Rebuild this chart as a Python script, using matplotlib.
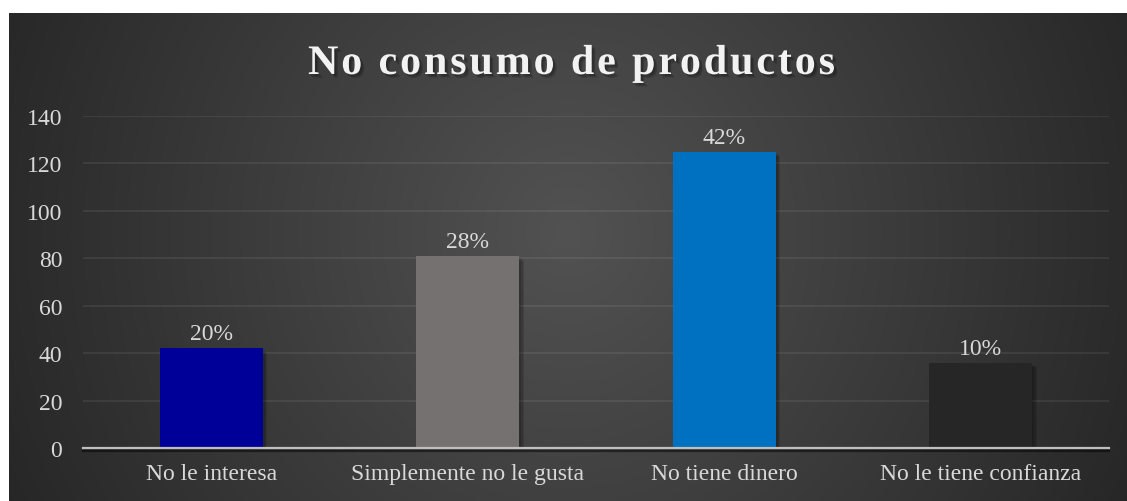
import numpy as np
import matplotlib
matplotlib.use("Agg")
import matplotlib.pyplot as plt
import matplotlib.patheffects as pe
from matplotlib.textpath import TextPath
from matplotlib.patches import PathPatch
from matplotlib.font_manager import FontProperties, findfont, get_font
from matplotlib.transforms import IdentityTransform, Affine2D

# ---- data ----
categories = ["No le interesa", "Simplemente no le gusta", "No tiene dinero", "No le tiene confianza"]
counts = [42, 81, 125, 36]
pct_labels = ["20%", "28%", "42%", "10%"]
bar_colors = ["#000099", "#767171", "#0070C0", "#262626"]
yticks = [0, 20, 40, 60, 80, 100, 120, 140]
title = "No consumo de productos"

W, H, DPI = 1127, 502, 100
SERIF = "Liberation Serif"
TXT = "#d9d9d9"

fig = plt.figure(figsize=(W / DPI, H / DPI), dpi=DPI, facecolor="white")

# ---- dark radial-gradient chart area ----
bx, by, bw, bh = 9, 0, 1118, 488
bg = fig.add_axes([bx / W, by / H, bw / W, bh / H])
bg.set_axis_off()
yy, xx = np.mgrid[0:bh, 0:bw]
cxp, cyp = 0.5 * bw, 0.45 * bh
r = np.sqrt(((xx - cxp) / (0.56 * bw)) ** 2 + ((yy - cyp) / (1.35 * bh)) ** 2)
r = np.clip(r, 0, 1)
c_in = np.array([0x52, 0x52, 0x52]) / 255
c_out = np.array([0x26, 0x26, 0x26]) / 255
img = c_in[None, None, :] + (c_out - c_in)[None, None, :] * r[..., None]
bg.imshow(img, aspect="auto", extent=[0, 1, 0, 1], interpolation="bilinear")
bg.set_xlim(0, 1)
bg.set_ylim(0, 1)

# ---- plot area ----
ax = fig.add_axes([83 / W, 53 / H, 1026 / W, 332 / H])
ax.set_facecolor("none")
x = np.arange(len(categories))
soft_shadow = [pe.SimplePatchShadow(offset=(d, -d), alpha=0.12, shadow_rgbFace="black")
               for d in (3.5, 2.5, 1.5)] + [pe.Normal()]
ax.bar(x, counts, width=0.40, color=bar_colors, zorder=3, path_effects=soft_shadow)
ax.set_xlim(-0.5, len(categories) - 0.5)
ax.set_ylim(0, 140)
ax.set_yticks(yticks)
ax.set_xticks(x)
ax.set_xticklabels(categories)
ax.set_axisbelow(True)
ax.yaxis.grid(True, color="white", alpha=0.08, linewidth=1.3, zorder=0)
for s in ["top", "right", "left"]:
    ax.spines[s].set_visible(False)
ax.spines["bottom"].set_color("#bfbfbf")
ax.spines["bottom"].set_linewidth(1.6)
ax.spines["bottom"].set_zorder(4)
ax.spines["bottom"].set_path_effects([
    pe.SimpleLineShadow(offset=(0, -1.8), alpha=0.5, shadow_color="black"), pe.Normal()])
ax.tick_params(axis="both", length=0, colors=TXT, labelsize=17)
ax.tick_params(axis="y", pad=15)
ax.tick_params(axis="x", pad=11)
for lab in ax.get_xticklabels() + ax.get_yticklabels():
    lab.set_fontfamily(SERIF)

for xi, v, lab in zip(x, counts, pct_labels):
    ax.annotate(lab, (xi, v), xytext=(0, 6.5), textcoords="offset points",
                ha="center", va="baseline", fontsize=17, color=TXT,
                fontfamily=SERIF, zorder=5)

# ---- letter-spaced bold title ----
fp = FontProperties(family=SERIF, weight="bold")
em = 42.0
ft = get_font(findfont(fp))
ft.set_size(em * 72 / DPI, DPI)
adv = [ft.load_char(ord(c)).linearHoriAdvance / 65536 for c in title]
target_w = 527.0
spacing = (target_w - sum(adv)) / (len(title) - 1)
x0 = 571.5 - target_w / 2
baseline = H - 75
pen = x0
title_fx = [pe.SimplePatchShadow(offset=(d, -d), alpha=0.18, shadow_rgbFace="black")
            for d in (2.5, 1.5)] + [pe.Normal()]
for c, a in zip(title, adv):
    if c != " ":
        tp = TextPath((0, 0), c, size=em, prop=fp)
        patch = PathPatch(tp, transform=Affine2D().translate(pen, baseline) + IdentityTransform(),
                          facecolor="#f2f2f2", edgecolor="none", lw=0,
                          path_effects=title_fx)
        fig.add_artist(patch)
    pen += a + spacing

fig.savefig("out.png", dpi=DPI, facecolor="white")
